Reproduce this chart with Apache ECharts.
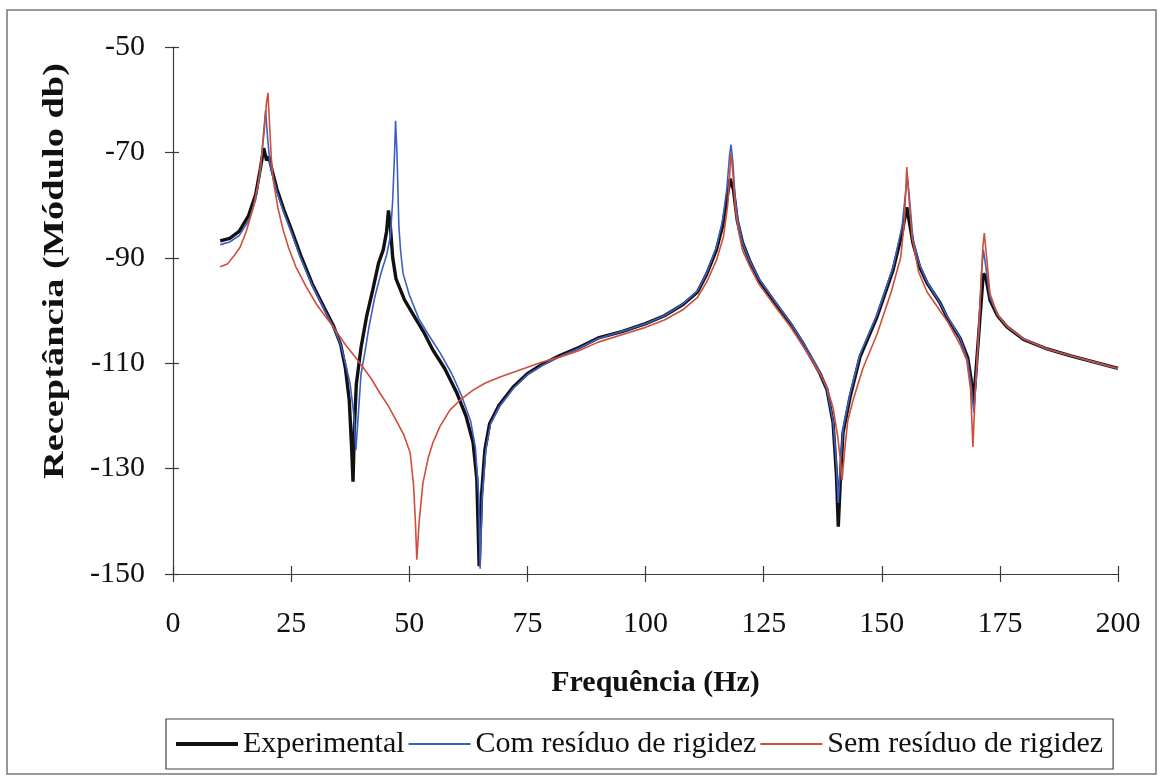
<!DOCTYPE html>
<html>
<head>
<meta charset="utf-8">
<script src="https://cdn.jsdelivr.net/npm/echarts@6/dist/echarts.min.js"></script>
<style>
html,body{margin:0;padding:0;background:#fff;}
#chart{width:1162px;height:780px;}
</style>
</head>
<body>
<div id="chart"></div>
<script>
// ---- Data ----
const seriesNames = ['Experimental', 'Com resíduo de rigidez', 'Sem resíduo de rigidez'];
const xTicks = [0, 25, 50, 75, 100, 125, 150, 175, 200];
const yTicks = [-150, -130, -110, -90, -70, -50];

const expFreq = [10,12,14,16,17.5,18.5,19.2,19.8,20.3,21,22,23.5,25,27,29.5,32,34,35.5,36.5,37.3,37.8,38.1,38.4,38.8,39.8,41,42.3,43.5,44.5,45.2,45.6,46,46.5,47.2,49,51,53,55,57.5,60,62,63.5,64.3,64.8,65.3,66,67,69,72,75,78,82,86,90,95,100,104,108,111,113,115,116.3,117.2,117.9,118.6,119.4,120.5,122,124,127,130.6,133.5,136.9,138.4,139.7,140.4,140.8,141.3,141.8,143.3,145.4,149,152.4,154.3,155.3,156.6,158,159.6,162.3,163.8,166.6,168.2,168.9,169.4,169.9,170.8,171.5,172,172.9,174.5,176.5,180,185,190,195,200];
const expDb = [-86.8,-86.3,-85,-82,-78,-73,-69.2,-71.5,-70.8,-73.5,-77,-81,-84.5,-89.5,-95,-99.5,-103,-106.5,-111,-117,-126,-132.5,-122,-114,-107,-101,-96,-91,-88.5,-85,-81,-84,-90,-94,-98,-101,-104,-107.5,-111,-115.5,-120,-125,-132,-148.5,-135,-126.5,-121.5,-118,-114.5,-112,-110.3,-108.5,-107,-105.2,-104,-102.5,-101,-98.8,-96.5,-93,-88.5,-84,-79,-75,-77,-82.8,-87,-90.5,-94.2,-98,-102.4,-106.5,-111.9,-115,-121.3,-131,-141,-131,-123.2,-116.4,-108.8,-101.2,-92.3,-85.3,-80.4,-87.2,-91.7,-94.8,-98.5,-101.3,-105.3,-109,-113,-117.6,-112,-101.2,-93,-93.5,-98,-101,-103.1,-105.5,-107.3,-108.6,-109.8,-111];

const comFreq = [10,12,14,16,17.5,18.5,19.2,19.6,20,20.5,21,22,23.5,25,27,29.5,32,34,35.5,36.5,37.5,38.3,38.7,39.2,39.8,40.6,41.5,42.7,44,45.2,46,46.5,46.9,47.1,47.4,47.8,48.2,48.7,50,52,54,56.5,59,61,63,64,64.7,65,65.4,66.2,67.2,69,72,75,78,82,86,90,95,100,104,108,111,113,115,116.3,117.2,117.8,118.1,118.5,119,119.6,120.5,122,124,127,130.6,133.5,136.9,138.4,139.7,140.4,140.8,141.2,141.8,143.3,145.4,149,152.4,154.3,155,155.4,155.8,156.6,158,159.6,162.3,163.8,166.6,168.2,168.9,169.5,170,170.6,171.1,171.5,172,172.9,174.5,176.5,180,185,190,195,200];
const comDb = [-87.5,-87,-85.8,-83,-79,-73.5,-66,-62,-67,-72,-74,-77.5,-81.5,-85,-90,-95.3,-99.8,-103.2,-106.5,-110,-114,-120,-126.5,-120,-112,-108,-103,-97.5,-93,-89.5,-86,-79,-70,-64,-70,-84,-89,-93,-97,-101.5,-104.5,-108,-112,-116,-121,-126,-135,-149,-136,-126.5,-121.5,-118.3,-114.8,-112.2,-110.5,-108.7,-107.1,-105.3,-104,-102.5,-101,-98.7,-96.3,-92.8,-88,-83,-77,-70.5,-68.5,-72,-79,-83,-87,-90.5,-94,-97.8,-102.2,-106.3,-111.7,-115,-121,-129,-136.5,-130,-122.5,-115.8,-108.3,-100.8,-91.8,-84,-78,-74.5,-78,-86.5,-91.3,-94.6,-98.5,-101,-105.2,-109.5,-114,-119.4,-113,-103,-93,-88.5,-91.5,-97.5,-100.8,-103,-105.4,-107.3,-108.6,-109.8,-111];

const semFreq = [10,11.5,13,14.2,15.5,17,18,18.6,19.3,19.8,20.1,20.4,20.8,21.2,22.2,23.3,24.5,26,28.2,30.5,33.9,36.5,39.6,42,43.8,45.5,47.2,48.8,50.2,50.9,51.3,51.6,52.1,52.9,54,55,56.5,58.6,61,63.5,66,69.2,73.4,78,82,86,90,95,100,104,108,111,113,115,116.5,117.4,117.9,118.1,118.4,119,119.6,120.5,122,124,127,130.6,133.5,136.9,138.4,139.7,140.7,141.2,141.6,142.1,142.8,144,146,149,152,154,154.8,155.3,155.7,156.4,157.8,159.6,162.3,164,166.6,168,168.8,169.3,169.8,170.5,171,171.4,171.7,172.1,172.9,174.5,176.5,180,185,190,195,200];
const semDb = [-91.7,-91.2,-89.5,-88,-85,-80.4,-76,-72,-66,-60.5,-58.7,-64,-71,-75.2,-80.5,-84.7,-88.2,-91.7,-95.5,-99,-103.1,-106.5,-110,-113,-115.7,-118,-120.8,-123.5,-127,-133,-140,-147.3,-140,-132.7,-128,-125.1,-122,-118.9,-116.8,-115.1,-113.8,-112.6,-111.3,-109.8,-108.8,-107.6,-106,-104.6,-103.2,-101.8,-99.8,-97.5,-94.5,-90.5,-86,-80,-73,-70.1,-73,-80.5,-84.5,-88.5,-91.5,-95,-98.7,-103,-107,-112,-114.5,-118.5,-124,-128,-132.2,-127,-121,-116.8,-111,-104.5,-96.5,-90,-83,-72.8,-78,-86,-92.7,-96.5,-100,-102.2,-106.5,-109.5,-115,-125.9,-115,-104,-95,-88,-85.3,-89,-96.8,-100.8,-103,-105.4,-107.3,-108.6,-109.8,-111];

function zip(xs, ys) { return xs.map((x, i) => [x, ys[i]]); }

const chart = echarts.init(document.getElementById('chart'), null, {renderer: 'canvas'});
const serif = '"Liberation Serif", "Times New Roman", serif';
const axisColor = '#3a3a3a';
const colors = ['#111111', '#3d5fc4', '#cf4e3a'];
const widths = [3.4, 1.6, 1.6];

const option = {
  backgroundColor: '#ffffff',
  animation: false,
  grid: { left: 173, right: 44, top: 47, bottom: 206 },
  xAxis: [{
    type: 'value', min: xTicks[0], max: xTicks[xTicks.length - 1], interval: 25,
    position: 'bottom',
    axisLine: { show: true, lineStyle: { color: axisColor, width: 1.2 } },
    axisTick: { show: true, inside: false, length: 8, lineStyle: { color: axisColor, width: 1.2 } },
    axisLabel: { show: true, margin: 35, fontFamily: serif, fontSize: 30, color: '#111' },
    splitLine: { show: false },
    name: 'Frequência (Hz)', nameLocation: 'middle', nameGap: 94,
    nameTextStyle: { fontFamily: serif, fontSize: 30, fontWeight: 'bold', color: '#111', padding: [0, 0, 0, 20] }
  }, {
    type: 'value', min: xTicks[0], max: xTicks[xTicks.length - 1], interval: 25,
    position: 'bottom',
    axisLine: { show: false },
    axisTick: { show: true, inside: true, length: 8, lineStyle: { color: axisColor, width: 1.2 } },
    axisLabel: { show: false }, splitLine: { show: false }
  }],
  yAxis: [{
    type: 'value', min: yTicks[0], max: yTicks[yTicks.length - 1], interval: 20,
    position: 'left',
    axisLine: { show: true, lineStyle: { color: axisColor, width: 1.2 } },
    axisTick: { show: true, inside: false, length: 8, lineStyle: { color: axisColor, width: 1.2 } },
    axisLabel: { show: true, margin: 28, fontFamily: serif, fontSize: 30, color: '#111' },
    splitLine: { show: false }
  }, {
    type: 'value', min: yTicks[0], max: yTicks[yTicks.length - 1], interval: 20,
    position: 'left',
    axisLine: { show: false },
    axisTick: { show: true, inside: true, length: 6, lineStyle: { color: axisColor, width: 1.2 } },
    axisLabel: { show: false }, splitLine: { show: false }
  }],
  legend: {
    left: 166, top: 719,
    padding: [10, 10, 10, 8],
    itemWidth: 62, itemHeight: 14, itemGap: 3,
    borderColor: '#444', borderWidth: 1.2,
    itemStyle: { opacity: 0 },
    textStyle: { fontFamily: serif, fontSize: 30, color: '#111' },
    data: seriesNames.map((n, i) => ({ name: n, lineStyle: { width: widths[i] + (i === 0 ? 0.6 : 0.4), color: colors[i] } }))
  },
  graphic: [{
    type: 'rect', silent: true, z: -1,
    shape: { x: 7, y: 10, width: 1149, height: 764 },
    style: { fill: 'none', stroke: '#777', lineWidth: 1.5 }
  }, {
    type: 'text', silent: true,
    x: 55, y: 271, rotation: Math.PI / 2, scaleX: 1.28, scaleY: 1,
    style: {
      text: 'Receptância (Módulo db)',
      font: 'bold 30px ' + serif,
      fill: '#111', textAlign: 'center', textVerticalAlign: 'middle'
    }
  }],
  series: [{
    name: seriesNames[0], type: 'line', data: zip(expFreq, expDb),
    symbol: 'none', showSymbol: false, smooth: false,
    lineStyle: { color: colors[0], width: widths[0] }, itemStyle: { color: colors[0] }
  }, {
    name: seriesNames[1], type: 'line', data: zip(comFreq, comDb),
    symbol: 'none', showSymbol: false, smooth: false,
    lineStyle: { color: colors[1], width: widths[1] }, itemStyle: { color: colors[1] }
  }, {
    name: seriesNames[2], type: 'line', data: zip(semFreq, semDb),
    symbol: 'none', showSymbol: false, smooth: false,
    lineStyle: { color: colors[2], width: widths[2] }, itemStyle: { color: colors[2] }
  }]
};
chart.setOption(option);
</script>
</body>
</html>
